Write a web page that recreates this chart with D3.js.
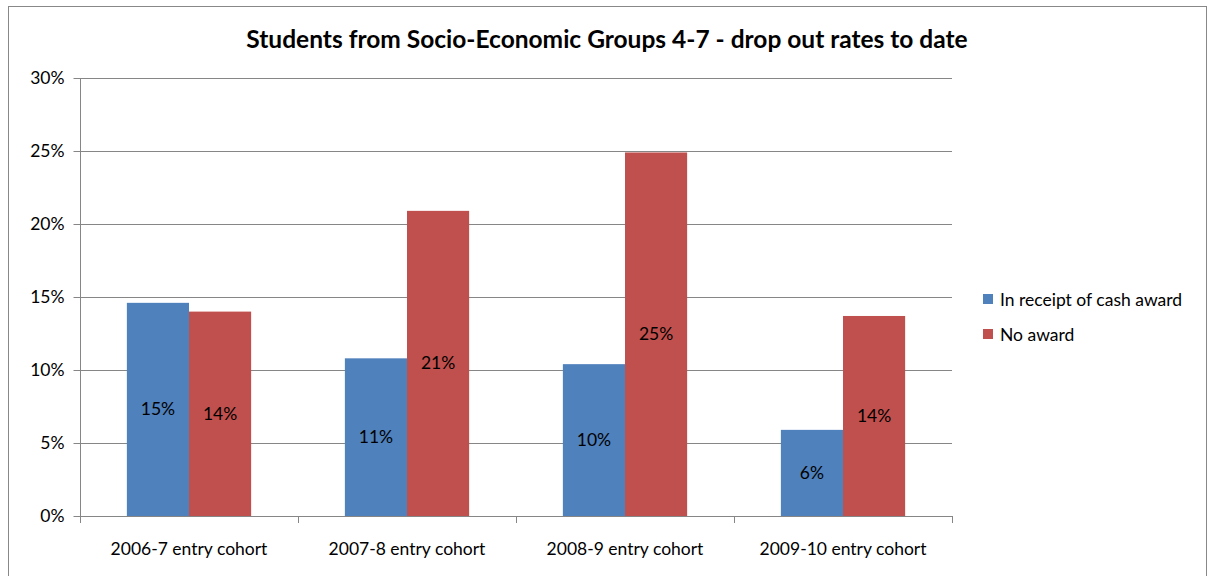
<!DOCTYPE html>
<html>
<head>
<script src="https://cdn.jsdelivr.net/npm/d3@7"></script>
<style>
  body { margin: 0; background: #fff; }
  text { font-family: Lato, "Open Sans", sans-serif; fill: #000; }
</style>
</head>
<body>
<div id="chart"></div>
<script>
const cohorts = ["2006-7 entry cohort", "2007-8 entry cohort", "2008-9 entry cohort", "2009-10 entry cohort"];
const seriesNames = ["In receipt of cash award", "No award"];
const cashAward = [0.146, 0.108, 0.104, 0.059];
const noAward = [0.140, 0.209, 0.249, 0.137];
const yTicks = [0, 0.05, 0.10, 0.15, 0.20, 0.25, 0.30];
const colors = ["#4F81BD", "#C0504D"];

const width = 1208, height = 576;
const plotLeft = 80, plotRight = 952, plotTop = 78, plotBottom = 516;
const fontSize = "17.5px";

const svg = d3.select("#chart").append("svg")
  .attr("width", width).attr("height", height);

// outer frame
svg.append("rect")
  .attr("x", 8.5).attr("y", 6.5).attr("width", 1198).attr("height", 580)
  .attr("fill", "#fff").attr("stroke", "#888").attr("stroke-width", 1);

svg.append("text")
  .attr("x", 607).attr("y", 48)
  .attr("text-anchor", "middle")
  .style("font-size", "24.5px").style("font-weight", "bold")
  .text("Students from Socio-Economic Groups 4-7 - drop out rates to date");

const x = d3.scaleBand().domain(cohorts).range([plotLeft, plotRight]).paddingInner(0.43).paddingOuter(0.215);
const sub = d3.scaleBand().domain([0, 1]).range([0, x.bandwidth()]);
const y = d3.scaleLinear().domain([0, 0.30]).range([plotBottom, plotTop]);

// gridlines
svg.append("g").selectAll("line").data(yTicks.slice(1)).enter().append("line")
  .attr("x1", plotLeft).attr("x2", plotRight)
  .attr("y1", d => Math.round(y(d)) + 0.5).attr("y2", d => Math.round(y(d)) + 0.5)
  .attr("stroke", "#868686").attr("stroke-width", 1);

// y axis
const yAxis = svg.append("g").attr("transform", `translate(${plotLeft + 0.5},0)`)
  .call(d3.axisLeft(y).tickValues(yTicks).tickFormat(d3.format(".0%")).tickSize(7).tickPadding(9));
yAxis.select(".domain").attr("stroke", "#868686").attr("d", `M0,${plotTop}V${plotBottom}`);
yAxis.selectAll(".tick line").attr("stroke", "#868686");
yAxis.selectAll(".tick text").style("font-size", fontSize).style("font-family", "Lato, sans-serif").attr("fill", "#000");

// bars
const data = cohorts.map((c, i) => ({ cohort: c, values: [cashAward[i], noAward[i]] }));
const groups = svg.append("g").selectAll("g").data(data).enter().append("g")
  .attr("transform", d => `translate(${x(d.cohort)},0)`);

groups.selectAll("rect").data(d => d.values.map((v, k) => ({ v, k }))).enter().append("rect")
  .attr("x", d => sub(d.k)).attr("width", sub.bandwidth())
  .attr("y", d => y(d.v)).attr("height", d => y(0) - y(d.v))
  .attr("fill", d => colors[d.k]);

groups.selectAll("text").data(d => d.values.map((v, k) => ({ v, k }))).enter().append("text")
  .attr("x", d => sub(d.k) + sub.bandwidth() / 2)
  .attr("y", d => (y(d.v) + y(0)) / 2 + 6)
  .attr("text-anchor", "middle")
  .style("font-size", fontSize)
  .text(d => d3.format(".0%")(d.v));

// x axis
const xAxis = svg.append("g").attr("transform", `translate(0,${plotBottom + 0.5})`)
  .call(d3.axisBottom(x).tickSize(0).tickPadding(0));
xAxis.select(".domain").attr("stroke", "#868686").attr("d", `M${plotLeft},0H${plotRight}`);
xAxis.selectAll(".tick text").attr("dy", null).attr("y", 38)
  .style("font-size", fontSize).style("font-family", "Lato, sans-serif").attr("fill", "#000");
// category separators
const seps = d3.range(cohorts.length + 1).map(i => plotLeft + i * x.step());
svg.append("g").selectAll("line").data(seps).enter().append("line")
  .attr("x1", d => Math.round(d) + 0.5).attr("x2", d => Math.round(d) + 0.5)
  .attr("y1", plotBottom).attr("y2", plotBottom + 7)
  .attr("stroke", "#868686");

// legend
const legend = svg.append("g").selectAll("g").data(seriesNames).enter().append("g")
  .attr("transform", (d, i) => `translate(983,${294 + i * 35})`);
legend.append("rect").attr("width", 10).attr("height", 10).attr("fill", (d, i) => colors[i]);
legend.append("text").attr("x", 17).attr("y", 12).style("font-size", fontSize).text(d => d);
</script>
</body>
</html>
